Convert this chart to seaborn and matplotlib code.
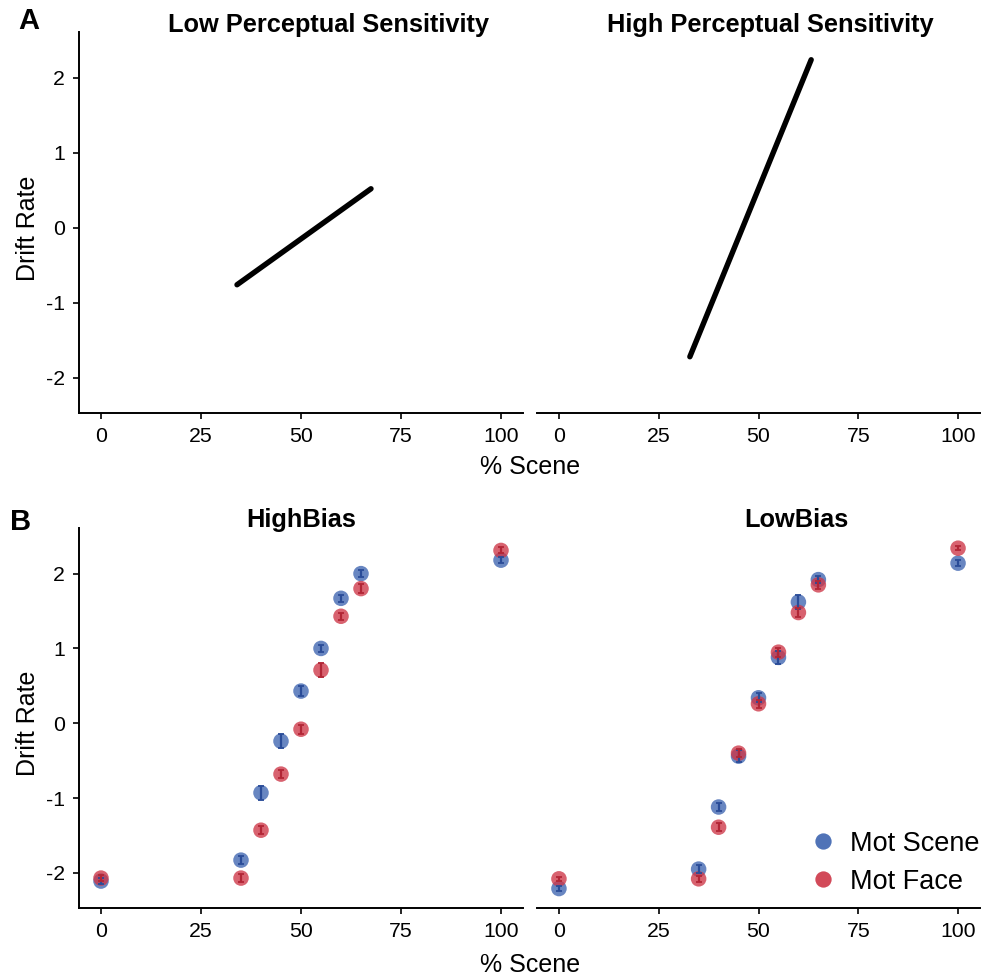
import numpy as np
import pandas as pd
import matplotlib
matplotlib.use("Agg")
import matplotlib.pyplot as plt
import seaborn as sns

# ---- data ----
# Panel A: model drift-rate lines (endpoints)
lowsens_x = [34, 67.5]
lowsens_y = [-0.76, 0.52]
highsens_x = [32.8, 63.2]
highsens_y = [-1.72, 2.24]

scene_pct = [0, 35, 40, 45, 50, 55, 60, 65, 100]

high_scene = [-2.11, -1.83, -0.93, -0.24, 0.43, 1.00, 1.67, 2.00, 2.18]
high_scene_err = [0.04, 0.05, 0.09, 0.09, 0.07, 0.05, 0.05, 0.05, 0.04]
high_face = [-2.07, -2.07, -1.43, -0.68, -0.08, 0.71, 1.43, 1.80, 2.31]
high_face_err = [0.04, 0.05, 0.05, 0.05, 0.06, 0.09, 0.05, 0.06, 0.04]

low_scene = [-2.21, -1.95, -1.12, -0.44, 0.34, 0.88, 1.62, 1.92, 2.14]
low_scene_err = [0.03, 0.05, 0.05, 0.08, 0.06, 0.09, 0.09, 0.05, 0.04]
low_face = [-2.08, -2.08, -1.39, -0.40, 0.26, 0.95, 1.48, 1.85, 2.34]
low_face_err = [0.03, 0.04, 0.05, 0.05, 0.05, 0.06, 0.06, 0.05, 0.03]

conditions = ["Mot Scene", "Mot Face"]
xticks = [0, 25, 50, 75, 100]
yticks = [-2, -1, 0, 1, 2]

# ---- style ----
sns.set_theme(style="ticks")
plt.rcParams["font.family"] = ["Liberation Sans", "DejaVu Sans"]
plt.rcParams["text.color"] = "black"
plt.rcParams["axes.labelcolor"] = "black"

blue = "#3D64B0"
red = "#CD3647"
blue_e = "#2A4C98"
red_e = "#B22636"
palette = {"Mot Scene": blue, "Mot Face": red}

W, H = 982, 977
fig = plt.figure(figsize=(W / 100, H / 100), dpi=100)

def ax_at(x0, x1, y0, y1):
    return fig.add_axes([x0 / W, 1 - y1 / H, (x1 - x0) / W, (y1 - y0) / H])

axA1 = ax_at(79, 523, 32, 413)
axA2 = ax_at(537, 980, 32, 413)
axB1 = ax_at(79, 523, 528, 908)
axB2 = ax_at(537, 980, 528, 908)

# Panel A lines
sns.lineplot(x=lowsens_x, y=lowsens_y, ax=axA1, color="black", linewidth=3.9)
sns.lineplot(x=highsens_x, y=highsens_y, ax=axA2, color="black", linewidth=3.9)

def panel_b(ax, s, se, f, fe, legend):
    df = pd.DataFrame({
        "x": scene_pct * 2,
        "y": s + f,
        "cond": ["Mot Scene"] * len(s) + ["Mot Face"] * len(f),
    })
    sns.scatterplot(data=df, x="x", y="y", hue="cond", palette=palette,
                    hue_order=conditions, s=125, alpha=0.78, linewidth=0,
                    ax=ax, legend=legend, zorder=3)
    ax.errorbar(scene_pct, s, yerr=se, fmt="none", ecolor=blue_e,
                elinewidth=1.6, capsize=2, capthick=1.3, zorder=4)
    ax.errorbar(scene_pct, f, yerr=fe, fmt="none", ecolor=red_e,
                elinewidth=1.6, capsize=2, capthick=1.3, zorder=4)

panel_b(axB1, high_scene, high_scene_err, high_face, high_face_err, False)
panel_b(axB2, low_scene, low_scene_err, low_face, low_face_err, True)

for ax in (axA1, axA2, axB1, axB2):
    ax.set_xlim(-5.5, 105.5)
    ax.set_ylim(-2.47, 2.61)
    ax.set_xticks(xticks)
    ax.set_xticklabels([str(t) for t in xticks])
    ax.set_yticks(yticks)
    ax.set_yticklabels([str(t) for t in yticks])
    ax.set_xlabel("")
    ax.set_ylabel("")
    for sp in ("top", "right"):
        ax.spines[sp].set_visible(False)
    ax.spines["left"].set_linewidth(1.4)
    ax.spines["bottom"].set_linewidth(1.4)
    ax.spines["left"].set_color("black")
    ax.spines["bottom"].set_color("black")
    ax.tick_params(axis="both", length=4, width=1.2, color="black",
                   labelsize=15.3, labelcolor="black", pad=6)

for ax in (axA2, axB2):
    ax.spines["left"].set_visible(False)
    ax.tick_params(axis="y", left=False, labelleft=False)

# legend
leg = axB2.legend(loc="lower right", bbox_to_anchor=(1.0, 0.035),
                  frameon=False, fontsize=19.5, borderaxespad=0, borderpad=0,
                  handletextpad=0.0, labelspacing=0.45, markerscale=1.05,
                  title=None)
for h in leg.legend_handles:
    h.set_alpha(0.9)
for t in leg.get_texts():
    t.set_color("black")

# titles
tkw = dict(fontsize=18.3, fontweight="bold", ha="center", va="center",
           color="black")
axA1.text((328 - 79) / 444, 1 + (32 - 25) / 381, "Low Perceptual Sensitivity",
          transform=axA1.transAxes, **tkw)
axA2.text((770 - 537) / 443, 1 + (32 - 25) / 381, "High Perceptual Sensitivity",
          transform=axA2.transAxes, **tkw)
axB1.text((301 - 79) / 444, 1 + (528 - 520) / 380, "HighBias",
          transform=axB1.transAxes, **tkw)
axB2.text((796 - 537) / 443, 1 + (528 - 520) / 380, "LowBias",
          transform=axB2.transAxes, **tkw)

# axis labels
lkw = dict(fontsize=18, color="black", ha="center", va="center")
fig.text(28 / W, 1 - 228 / H, "Drift Rate", rotation=90, **lkw)
fig.text(28 / W, 1 - 723 / H, "Drift Rate", rotation=90, **lkw)
fig.text(530 / W, 1 - 467 / H, "% Scene", **lkw)
fig.text(530 / W, 1 - 965 / H, "% Scene", **lkw)

# panel letters
fig.text(29 / W, 1 - 21 / H, "A", fontsize=21, fontweight="bold",
         ha="center", va="center", color="black")
fig.text(21 / W, 1 - 522 / H, "B", fontsize=21, fontweight="bold",
         ha="center", va="center", color="black")

fig.savefig("out.png", dpi=100)
